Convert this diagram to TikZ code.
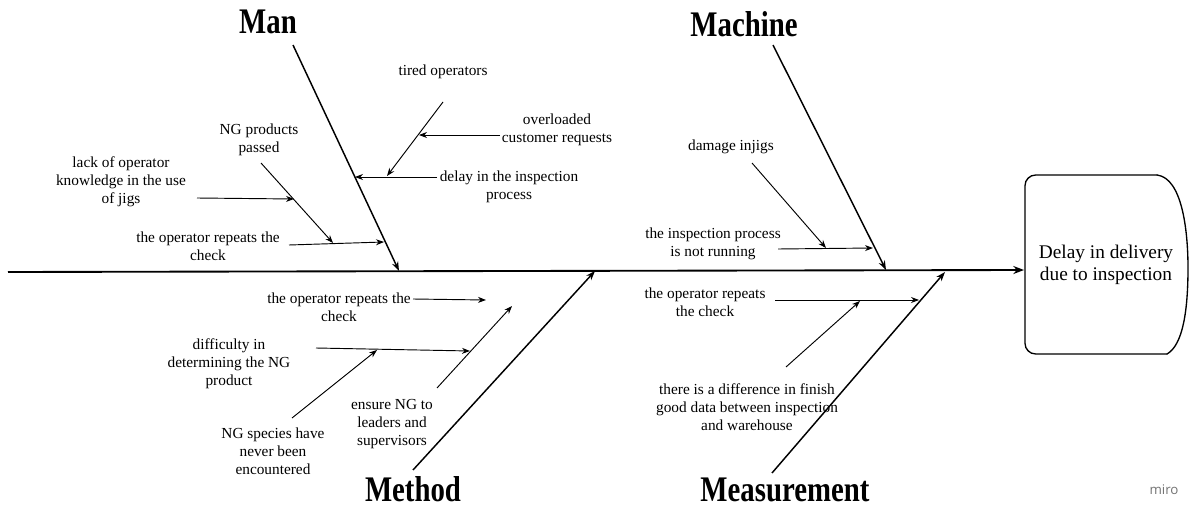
\documentclass[tikz,border=0pt]{standalone}
\usepackage{fontspec}
\setmainfont{Liberation Serif}
\newfontfamily\wmfont{Open Sans}
\usetikzlibrary{arrows.meta}
\tikzset{
  bone/.style={line width=1.1pt,-{Stealth[length=7pt,width=5pt]}},
  sub/.style={line width=0.7pt,-{Stealth[length=6pt,width=4.5pt]}},
  spine/.style={line width=1.4pt,-{Stealth[length=8pt,width=6pt]}},
  lbl/.style={align=center,font=\fontsize{11.5}{13.5}\selectfont,inner sep=0pt},
  cat/.style={font=\fontsize{27}{30}\selectfont\bfseries,inner sep=0pt,anchor=base},
}
\newcommand{\catname}[1]{\scalebox{0.8}[1]{#1}}
\begin{document}
\begin{tikzpicture}[x=0.75pt,y=-0.75pt]
\useasboundingbox (0,0) rectangle (1193,510);
% effect box
\draw[line width=1pt,rounded corners=8pt,line cap=round] (1157,175) -- (1025,175) -- (1025,354) -- (1167,354);
\draw[line width=1pt,line cap=round] (1157,175)
  .. controls (1182,178) and (1188,230) .. (1188,268)
  .. controls (1188,310) and (1183,345) .. (1167,354);
\coordinate (boxw) at (1024,270);
\node[lbl,font=\fontsize{14.5}{17}\selectfont] (effect) at (1106,265) {Delay in delivery\\due to inspection};
% spine
\coordinate (s0) at (8,272);
\draw[spine] (s0) -- (boxw);
% categories
\node[cat] (man) at (268,34) {\catname{Man}};
\node[cat] (machine) at (744,37) {\catname{Machine}};
\node[cat] (method) at (413,501) {\catname{Method}};
\node[cat] (meas) at (785,501) {\catname{Measurement}};
% bones
\coordinate (m0) at (293,45); \coordinate (m1) at (399,271);
\coordinate (c0) at (773,45); \coordinate (c1) at (886,270);
\coordinate (t0) at (413,470); \coordinate (t1) at (595,271);
\coordinate (r0) at (772,473); \coordinate (r1) at (945,272);
\draw[bone] (m0) -- (m1);
\draw[bone] (c0) -- (c1);
\draw[bone] (t0) -- (t1);
\draw[bone] (r0) -- (r1);
% Man causes
\node[lbl] (tired) at (443,72) {tired operators};
\node[lbl] (over) at (557,130) {overloaded\\customer requests};
\node[lbl] (delay) at (509,187) {delay in the inspection\\process};
\node[lbl] (ngp) at (259,140) {NG products\\passed};
\node[lbl] (lack) at (121,182) {lack of operator\\knowledge in the use\\of jigs};
\node[lbl] (rep1) at (208,246) {the operator repeats the\\check};
\coordinate (d0) at (437,177); \coordinate (d1) at (355,177);
\coordinate (ti0) at (443,102); \coordinate (ti1) at (387,176);
\coordinate (o0) at (500,135); \coordinate (o1) at (419,135);
\coordinate (p0) at (289,245); \coordinate (p1) at (384,242);
\coordinate (n0) at (261,163); \coordinate (n1) at (333,243);
\coordinate (l0) at (197,198); \coordinate (l1) at (294,199);
\draw[sub] (d0) -- (d1);
\draw[sub] (ti0) -- (ti1);
\draw[sub] (o0) -- (o1);
\draw[sub] (p0) -- (p1);
\draw[sub] (n0) -- (n1);
\draw[sub] (l0) -- (l1);
% Machine causes
\node[lbl] (dmg) at (731,147) {damage injigs};
\node[lbl] (insp) at (713,244) {the inspection process\\is not running};
\coordinate (i0) at (778,249); \coordinate (i1) at (873,248);
\coordinate (g0) at (752,163); \coordinate (g1) at (826,248);
\draw[sub] (i0) -- (i1);
\draw[sub] (g0) -- (g1);
% Method causes
\node[lbl] (rep2) at (339,307) {the operator repeats the\\check};
\node[lbl] (diff) at (229,364) {difficulty in\\determining the NG\\product};
\node[lbl] (spec) at (273,451) {NG species have\\never been\\encountered};
\node[lbl] (ens) at (392,424) {ensure NG to\\leaders and\\supervisors};
\coordinate (q0) at (413,299); \coordinate (q1) at (486,300);
\coordinate (f0) at (316,348); \coordinate (f1) at (470,351);
\coordinate (e0) at (292,418); \coordinate (e1) at (377,350);
\coordinate (u0) at (437,388); \coordinate (u1) at (512,306);
\draw[sub] (q0) -- (q1);
\draw[sub] (f0) -- (f1);
\draw[sub] (e0) -- (e1);
\draw[sub] (u0) -- (u1);
% Measurement causes
\node[lbl] (rep3) at (705,302) {the operator repeats\\the check};
\node[lbl] (dif2) at (747,407) {there is a difference in finish\\good data between inspection\\and warehouse};
\coordinate (h0) at (775,300); \coordinate (h1) at (919,300);
\coordinate (k0) at (786,367); \coordinate (k1) at (860,301);
\draw[sub] (h0) -- (h1);
\draw[sub] (k0) -- (k1);
% watermark
\node[font=\wmfont\fontsize{10}{12}\selectfont,text=black!55,inner sep=0pt] (miro) at (1164,490) {miro};
\end{tikzpicture}
\end{document}
